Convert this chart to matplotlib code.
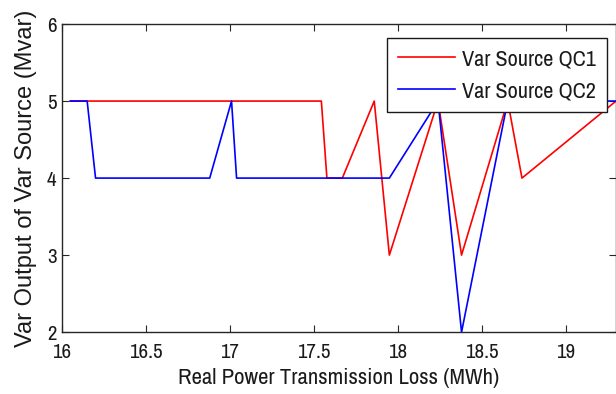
import matplotlib
matplotlib.use("Agg")
import matplotlib.pyplot as plt
from matplotlib import font_manager

names = {f.name for f in font_manager.fontManager.ttflist}
def pick(cands):
    c = [f for f in cands if f in names]
    return c + ['DejaVu Sans'] if c else ['DejaVu Sans']

narrow = pick(['Archivo Narrow', 'Liberation Sans Narrow', 'Liberation Sans'])
regular = pick(['Liberation Sans'])
plt.rcParams['font.family'] = narrow

# Data
loss = [16.05, 16.15, 16.20, 16.88, 17.01, 17.04, 17.545, 17.578, 17.67, 17.86,
        17.95, 18.24, 18.38, 18.655, 18.74, 19.30]
qc1 = [5, 5, 5, 5, 5, 5, 5, 4, 4, 5, 3, 5, 3, 5, 4, 5]
qc2 = [5, 5, 4, 4, 5, 4, 4, 4, 4, 4, 4, 5, 2, 5, 5, 5]
xticks = [16, 16.5, 17, 17.5, 18, 18.5, 19]
yticks = [2, 3, 4, 5, 6]

fig = plt.figure(figsize=(6.16, 3.94), dpi=100)
ax = fig.add_axes([0.1006, 0.157, 0.8994, 0.782])
ax.plot(loss, qc1, color='#ff0000', lw=1.2, label='Var Source QC1')
ax.plot(loss, qc2, color='#0000ff', lw=1.2, label='Var Source QC2')
ax.set_xlim(16, 19.3)
ax.set_ylim(2, 6)
ax.set_xticks(xticks)
ax.set_xticklabels([f"{t:g}" for t in xticks])
ax.set_yticks(yticks)
ax.tick_params(direction='in', top=True, right=True, length=5, labelsize=15,
               colors='#262626', labelcolor='#1a1a1a')
ax.tick_params(axis='x', pad=8)
ax.tick_params(axis='y', pad=4)
for s in ax.spines.values():
    s.set_linewidth(1.0)
    s.set_color('#262626')
ax.set_xlabel('Real Power Transmission Loss (MWh)', fontsize=16.4, labelpad=4, color='#1a1a1a')
ax.set_ylabel('Var Output of Var Source (Mvar)', fontsize=17, labelpad=7,
              family=regular, color='#1a1a1a')
leg = ax.legend(loc='upper right', bbox_to_anchor=(0.984, 0.955), fontsize=16,
                frameon=True, fancybox=False, edgecolor='#1a1a1a', framealpha=1,
                handlelength=2.6, borderpad=0.5, labelspacing=0.55, handletextpad=0.3,
                borderaxespad=0)
leg.get_frame().set_linewidth(1.0)
for t in leg.get_texts():
    t.set_color('#1a1a1a')
fig.savefig('out.png', dpi=100)
